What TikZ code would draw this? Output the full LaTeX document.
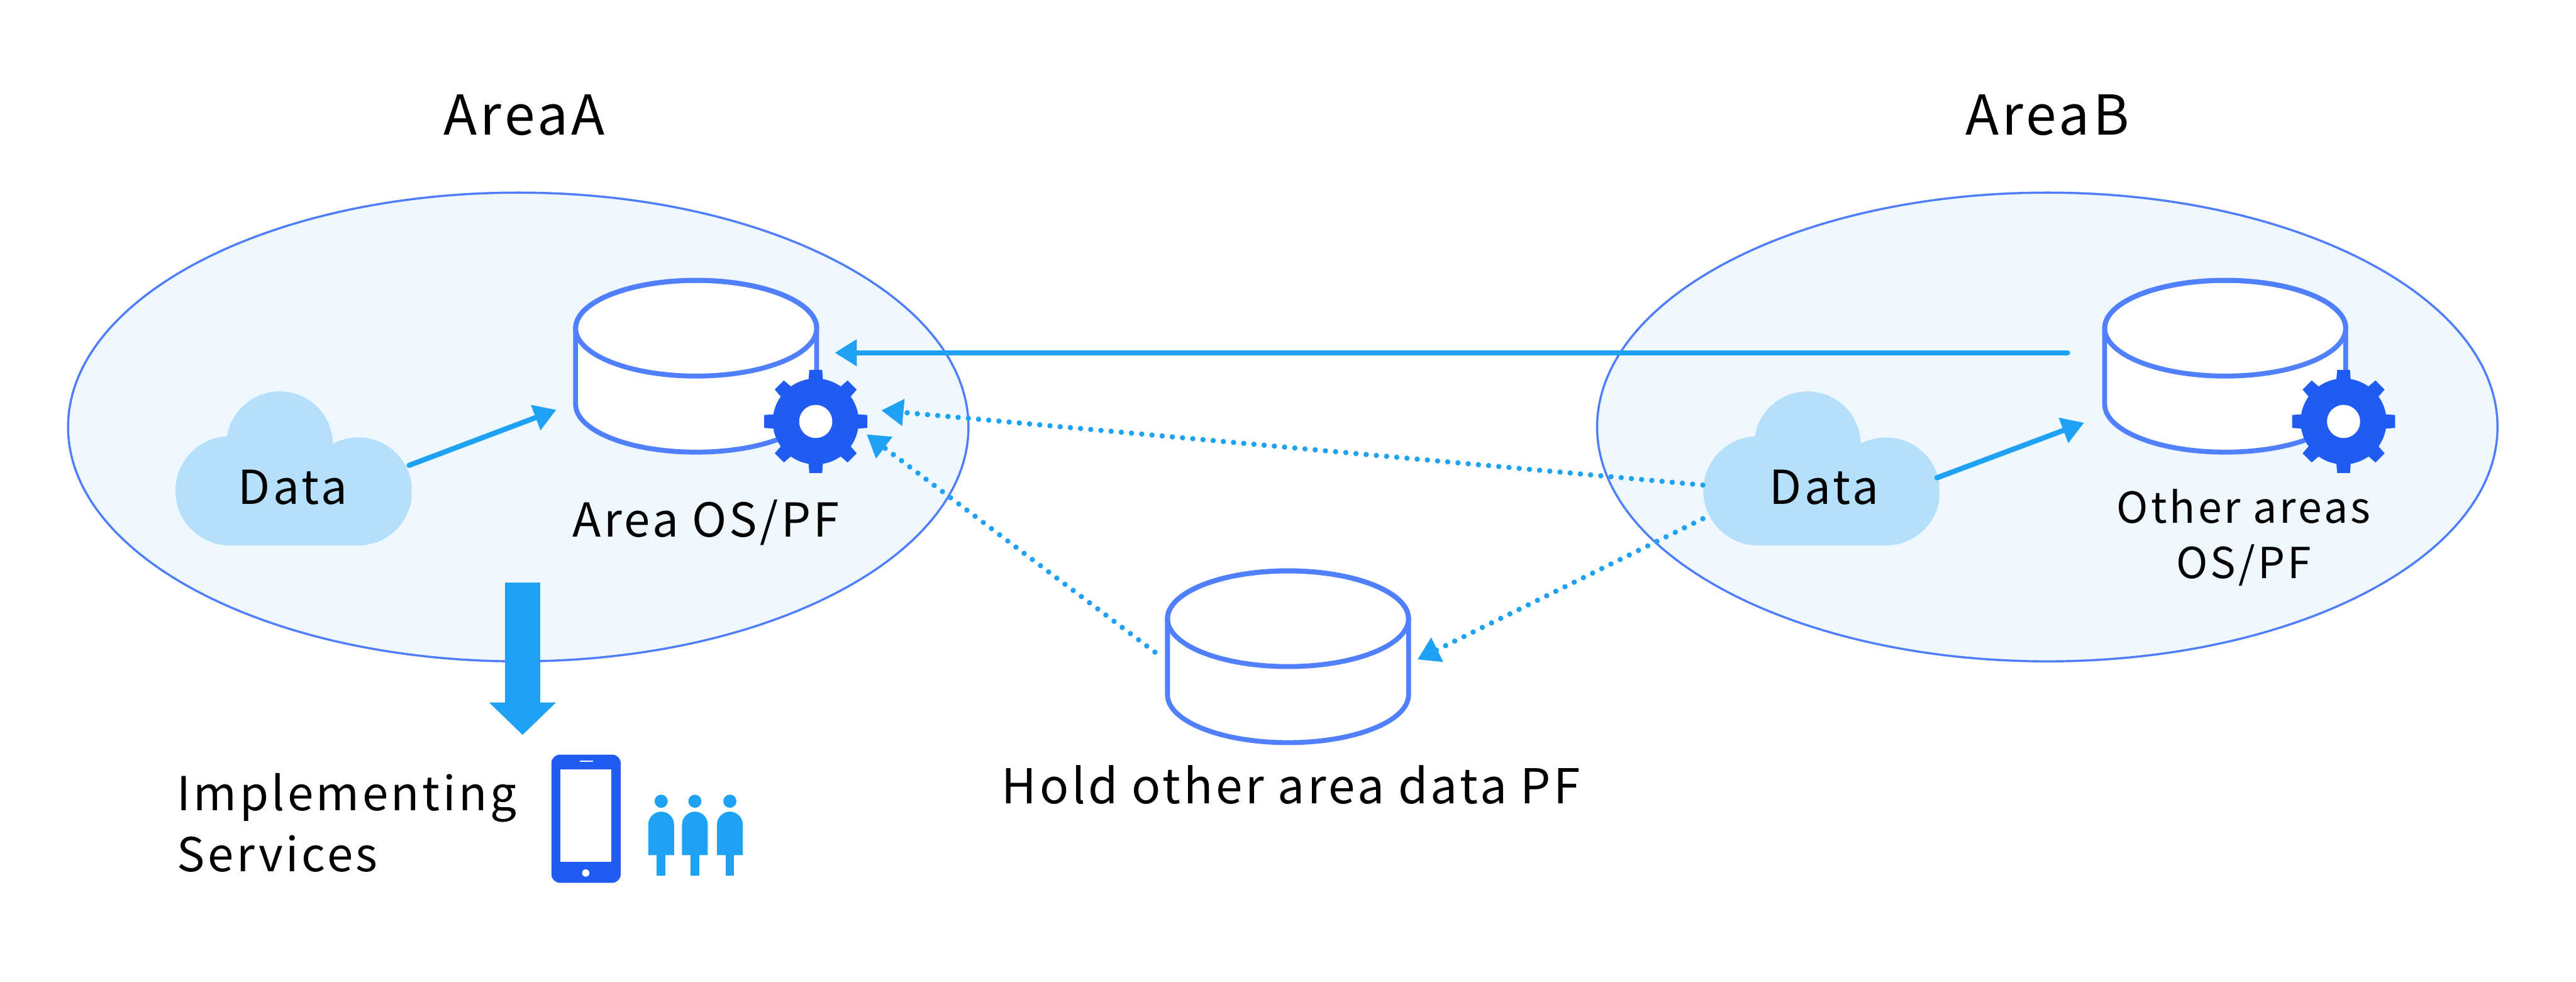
\documentclass[tikz,border=0pt]{standalone}
\usepackage{fontspec}
\setmainfont{Noto Sans CJK JP}[LetterSpace=6]
\usetikzlibrary{arrows.meta,shapes.geometric}
\definecolor{zonefill}{HTML}{F0F8FF}
\definecolor{zoneline}{HTML}{4F7DFF}
\definecolor{drumline}{HTML}{507FFF}
\definecolor{flowblue}{HTML}{1FA2F4}
\definecolor{cloudfill}{HTML}{B5E0FC}
\definecolor{gearblue}{HTML}{205BF3}
\tikzset{
  areazone/.style={ellipse, draw=zoneline, fill=zonefill, line width=0.035cm, inner sep=0pt, minimum width=14.68cm, minimum height=7.64cm},
  drum/.pic={
    \draw[drumline, fill=white, line width=0.08cm] (-1.965,0.62) arc[x radius=1.965, y radius=0.78, start angle=180, end angle=0] -- (1.965,-0.62) arc[x radius=1.965, y radius=0.78, start angle=0, end angle=-180] -- cycle;
    \draw[drumline, line width=0.08cm] (0,0.62) ellipse (1.965 and 0.78);
  },
  gearicon/.pic={
    \fill[gearblue] (0,0) circle (0.7);
    \foreach \tooth in {0,45,...,315}
      \fill[gearblue, rotate=\tooth] (-0.12,0.64) -- (-0.105,0.84) -- (0.105,0.84) -- (0.12,0.64) -- cycle;
    \fill[white] (0,0) circle (0.27);
  },
  cloudbox/.style={rectangle, inner sep=0pt, minimum width=3.85cm, minimum height=2.5cm, path picture={
    \begin{scope}[shift={(path picture bounding box.center)}]
    \fill[cloudfill] (-1.035,-0.365) circle (0.89);
    \fill[cloudfill] (1.055,-0.375) circle (0.88);
    \fill[cloudfill] (-0.225,0.385) circle (0.87);
    \fill[cloudfill] (-1.035,-1.255) rectangle (1.055,-0.37);
    \end{scope}}},
  flowline/.style={draw=flowblue, line width=0.085cm, line cap=round, shorten <=-0.05cm, -{Triangle[length=0.36cm,width=0.42cm]}, flowblue},
  dotline/.style={draw=flowblue, line width=0.087cm, line cap=round, dash pattern=on 0pt off 0.167cm, -{Triangle[length=0.36cm,width=0.42cm]}, flowblue},
  bigarrow/.style={draw=flowblue, line width=0.58cm, -{Triangle[length=0.53cm,width=1.06cm]}, flowblue},
  txt/.style={anchor=base, inner sep=0pt, font=\fontsize{21.7}{26}\selectfont},
  smalltxt/.style={anchor=base, inner sep=0pt, font=\fontsize{19.8}{24}\selectfont},
  holdtxt/.style={anchor=base, inner sep=0pt, font=\fontsize{22.3}{26}\selectfont},
  areatxt/.style={anchor=base, inner sep=0pt, font=\fontsize{25.5}{30}\selectfont},
}
\begin{document}
\begin{tikzpicture}
\useasboundingbox (0,0) rectangle (42,16);

\node[areazone] (areaA) at (8.45,9.04) {};
\node[areazone] (areaB) at (33.38,9.04) {};
\node[areatxt] (titleA) at (8.55,13.8) {AreaA};
\node[areatxt] (titleB) at (33.38,13.8) {AreaB};

\node[cloudbox] (cloudA) at (4.785,8.365) {};
\node[cloudbox] (cloudB) at (29.695,8.365) {};
\node[txt] (dataA) at (4.77,7.78) {Data};
\node[txt] (dataB) at (29.74,7.78) {Data};

\pic (cylA) at (11.35,10.03) {drum};
\pic (cylB) at (36.28,10.03) {drum};
\pic (cylC) at (21.0,5.295) {drum};
\pic (gearA) at (13.30,9.13) {gearicon};
\pic (gearB) at (38.21,9.13) {gearicon};

\node[txt] (labelA) at (11.51,7.25) {Area OS/PF};
\node[smalltxt] (labelB) at (36.58,7.47) {Other areas};
\node[smalltxt] (labelB2) at (36.58,6.57) {OS/PF};
\node[holdtxt] (labelC) at (21.05,2.9) {Hold other area data PF};
\node[txt, anchor=base west] (labelS) at (2.88,2.79) {Implementing};
\node[txt, anchor=base west] (labelS2) at (2.88,1.79) {Services};

\coordinate (inA) at (9.07,9.32);
\coordinate (inB) at (33.98,9.11);
\coordinate (outB) at (33.66,10.25);
\coordinate (inX) at (13.61,10.25);
\coordinate (inY) at (14.37,9.31);
\coordinate (inZ) at (14.13,8.92);
\coordinate (outC) at (18.83,5.37);
\coordinate (inC) at (23.11,5.25);
\coordinate (downA) at (8.52,6.5);
\coordinate (downB) at (8.52,4.02);

\draw[flowline] (cloudA.2) -- (inA);
\draw[flowline] (cloudB.-4) -- (inB);
\draw[flowline] (outB) -- (inX);
\draw[dotline] (cloudB.188) -- (inY);
\draw[dotline] (outC) -- (inZ);
\draw[dotline] (cloudB.203) -- (inC);
\draw[bigarrow] (downA) -- (downB);

\fill[gearblue, rounded corners=0.14cm] (8.99,1.61) rectangle (10.12,3.70);
\fill[white] (9.14,1.95) rectangle (9.97,3.46);
\fill[white] (9.45,3.58) rectangle (9.67,3.60);
\fill[white] (9.55,1.77) circle (0.06);
\foreach \p in {10.78,11.33,11.90} {
  \fill[flowblue] (\p,2.94) circle (0.107);
  \fill[flowblue] (\p-0.21,2.06) -- (\p-0.21,2.56) arc[start angle=180, end angle=0, radius=0.21] -- (\p+0.21,2.06) -- cycle;
  \fill[flowblue] (\p-0.07,1.73) rectangle (\p+0.07,2.1);
}
\end{tikzpicture}
\end{document}
